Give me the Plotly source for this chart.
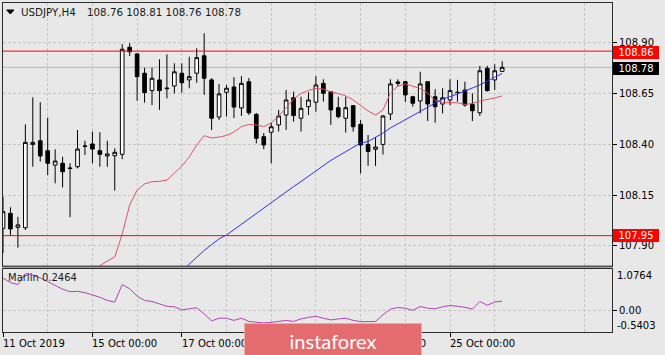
import plotly.graph_objects as go

# ---------------- data ----------------
candle_idx = list(range(68))
opens = [107.986, 108.060, 107.991, 107.989, 108.400, 108.418, 108.369, 108.298, 108.307, 108.284,
         108.290, 108.390, 108.402, 108.369, 108.343, 108.344, 108.351, 108.879, 108.846, 108.751,
         108.665, 108.718, 108.678, 108.688, 108.751, 108.718, 108.751, 108.837, 108.718, 108.535,
         108.657, 108.683, 108.580, 108.709, 108.548, 108.438, 108.460, 108.496, 108.545, 108.630,
         108.529, 108.586, 108.608, 108.701, 108.660, 108.581, 108.529, 108.591, 108.499, 108.400,
         108.376, 108.400, 108.550, 108.708, 108.709, 108.635, 108.614, 108.709, 108.635, 108.599,
         108.619, 108.657, 108.668, 108.598, 108.556, 108.775, 108.718, 108.76]
highs = [108.142, 108.090, 108.043, 108.499, 108.632, 108.608, 108.532, 108.376, 108.339, 108.307,
         108.471, 108.418, 108.463, 108.460, 108.418, 108.381, 108.895, 108.899, 108.850, 108.778,
         108.778, 108.820, 108.844, 108.800, 108.800, 108.832, 108.874, 108.948, 108.727, 108.698,
         108.693, 108.732, 108.737, 108.727, 108.555, 108.456, 108.507, 108.570, 108.668, 108.660,
         108.635, 108.657, 108.737, 108.721, 108.662, 108.635, 108.635, 108.594, 108.520, 108.446,
         108.434, 108.545, 108.721, 108.721, 108.713, 108.640, 108.758, 108.712, 108.672, 108.677,
         108.721, 108.718, 108.709, 108.652, 108.787, 108.787, 108.795, 108.81]
lows = [107.864, 107.953, 107.891, 107.978, 108.290, 108.315, 108.249, 108.208, 108.188, 108.041,
        108.282, 108.348, 108.307, 108.290, 108.290, 108.172, 108.327, 108.836, 108.615, 108.606,
        108.594, 108.570, 108.627, 108.652, 108.655, 108.677, 108.704, 108.644, 108.471, 108.520,
        108.537, 108.530, 108.540, 108.545, 108.405, 108.376, 108.307, 108.463, 108.471, 108.512,
        108.463, 108.545, 108.561, 108.611, 108.496, 108.529, 108.458, 108.463, 108.257, 108.294,
        108.294, 108.350, 108.520, 108.685, 108.609, 108.586, 108.553, 108.515, 108.507, 108.553,
        108.594, 108.611, 108.586, 108.515, 108.540, 108.660, 108.668, 108.76]
closes = [108.068, 107.983, 108.003, 108.410, 108.410, 108.343, 108.307, 108.318, 108.265, 108.281,
          108.377, 108.392, 108.377, 108.351, 108.353, 108.361, 108.869, 108.857, 108.734, 108.655,
          108.726, 108.665, 108.675, 108.758, 108.704, 108.734, 108.828, 108.726, 108.529, 108.649,
          108.677, 108.584, 108.701, 108.556, 108.430, 108.397, 108.487, 108.540, 108.619, 108.542,
          108.578, 108.619, 108.693, 108.652, 108.570, 108.537, 108.581, 108.487, 108.397, 108.365,
          108.387, 108.540, 108.698, 108.701, 108.644, 108.603, 108.698, 108.599, 108.586, 108.630,
          108.665, 108.656, 108.594, 108.566, 108.763, 108.665, 108.763, 108.78]

ma_red_start = 12
ma_red = [107.771, 107.802, 107.825, 107.845, 107.958, 108.101, 108.175, 108.205, 108.216, 108.218,
          108.224, 108.259, 108.293, 108.338, 108.397, 108.443, 108.432, 108.436, 108.444, 108.461,
          108.488, 108.498, 108.496, 108.488, 108.506, 108.540, 108.579, 108.624, 108.651, 108.666,
          108.676, 108.673, 108.659, 108.651, 108.639, 108.619, 108.594, 108.565, 108.545, 108.570,
          108.653, 108.688, 108.698, 108.688, 108.676, 108.653, 108.616, 108.608, 108.607, 108.605,
          108.597, 108.602, 108.614, 108.620, 108.629, 108.639]
ma_blue_start = 24
ma_blue = [107.776, 107.810, 107.845, 107.877, 107.906, 107.934, 107.953, 107.980, 108.007, 108.032,
           108.059, 108.086, 108.111, 108.138, 108.165, 108.192, 108.217, 108.244, 108.271, 108.298,
           108.321, 108.343, 108.363, 108.385, 108.407, 108.414, 108.433, 108.456, 108.481, 108.501,
           108.520, 108.543, 108.562, 108.584, 108.604, 108.624, 108.635, 108.649, 108.661, 108.678,
           108.693, 108.713, 108.730, 108.750]
marlin = [0.832, 0.717, 0.666, 0.948, 0.910, 0.838, 0.743, 0.640, 0.550, 0.486,
          0.494, 0.461, 0.409, 0.345, 0.263, 0.222, 0.666, 0.563, 0.371, 0.263,
          0.237, 0.171, 0.114, 0.101, 0.024, 0.050, 0.076, -0.078, -0.258, -0.189,
          -0.189, -0.245, -0.189, -0.271, -0.284, -0.309, -0.296, -0.271, -0.245, -0.271,
          -0.207, -0.168, -0.142, -0.189, -0.232, -0.207, -0.189, -0.245, -0.276, -0.276,
          -0.271, -0.104, 0.042, 0.083, 0.063, 0.012, 0.109, 0.063, 0.050, 0.101,
          0.135, 0.114, 0.088, 0.042, 0.237, 0.140, 0.222, 0.2464]

price_ticks = [107.90, 108.15, 108.40, 108.65, 108.90]
date_ticks = [0, 12, 24, 36, 48, 60]
# labels drawn for the ticks (the 21 Oct label is hidden by the watermark in the reference)
label_ticks = [0, 12, 24, 48, 60]
date_labels = ["11 Oct 2019", "15 Oct 00:00", "17 Oct 00:00", "23 Oct 00:00", "25 Oct 00:00"]
day_grid = [6, 18, 30, 42, 54, 66, 78]
resistance = 108.86
support = 107.95
last_price = 108.78
marlin_max = 1.0764
marlin_min = -0.5403
header_symbol = "USDJPY,H4"
header_ohlc = "108.76 108.81 108.76 108.78"

# ---------------- layout helpers ----------------
W, H = 665, 355
ML, MR, MT, MB = 3, 53, 3, 23
PW = W - ML - MR
PH = H - MT - MB


def px_x(px):
    return (px - ML) / PW


def px_y(py):
    return (H - MB - py) / PH


main_lo = px_y(266)
ind_hi = px_y(268.5)
FONT = "DejaVu Sans"
grid_col = "#c6c6c6"
frame_col = "#2c2c2c"

fig = go.Figure()
fig.add_trace(go.Candlestick(
    x=candle_idx, open=opens, high=highs, low=lows, close=closes,
    increasing=dict(line=dict(color="#000000", width=1), fillcolor="#ffffff"),
    decreasing=dict(line=dict(color="#000000", width=1), fillcolor="#000000"),
    whiskerwidth=0, xaxis="x", yaxis="y", hoverinfo="skip", showlegend=False))
fig.add_trace(go.Scatter(
    x=list(range(ma_red_start, ma_red_start + len(ma_red))), y=ma_red, mode="lines",
    line=dict(color="#e2506e", width=1), xaxis="x", yaxis="y", hoverinfo="skip"))
fig.add_trace(go.Scatter(
    x=list(range(ma_blue_start, ma_blue_start + len(ma_blue))), y=ma_blue, mode="lines",
    line=dict(color="#3030f4", width=1), xaxis="x", yaxis="y", hoverinfo="skip"))
fig.add_trace(go.Scatter(
    x=candle_idx, y=marlin, mode="lines", line=dict(color="#b044b4", width=1),
    xaxis="x2", yaxis="y2", hoverinfo="skip"))

xrange = [0, 81.74]
fig.update_layout(
    width=W, height=H, margin=dict(l=ML, r=MR, t=MT, b=MB),
    paper_bgcolor="#e8e8e8", plot_bgcolor="#e8e8e8",
    showlegend=False, hovermode=False,
    font=dict(family=FONT, size=10, color="#000000"),
    xaxis=dict(domain=[0, 1], anchor="y", range=xrange, rangeslider=dict(visible=False),
               tickmode="array", tickvals=date_ticks + day_grid, showticklabels=False, ticks="",
               showgrid=True, gridcolor=grid_col, griddash="3px,2px", gridwidth=1,
               showline=True, mirror=True, linecolor=frame_col, linewidth=1, zeroline=False),
    yaxis=dict(domain=[main_lo, 1], anchor="x", side="right", range=[107.8004, 109.0972],
               tickmode="array", tickvals=price_ticks, ticktext=[f"{v:.2f}" for v in price_ticks],
               ticks="outside", ticklen=4, tickcolor="#000000",
               showgrid=True, gridcolor=grid_col, griddash="3px,2px", gridwidth=1,
               showline=True, mirror=True, linecolor=frame_col, linewidth=1, zeroline=False),
    xaxis2=dict(domain=[0, 1], anchor="y2", matches="x", range=xrange,
                tickmode="array", tickvals=date_ticks, showticklabels=False,
                ticks="outside", ticklen=4, tickcolor="#000000",
                showgrid=True, gridcolor=grid_col, griddash="3px,2px", gridwidth=1,
                minor=dict(tickmode="array", tickvals=day_grid, showgrid=True, gridcolor=grid_col,
                           griddash="3px,2px", gridwidth=1, ticks=""),
                showline=True, mirror=True, linecolor=frame_col, linewidth=1, zeroline=False),
    yaxis2=dict(domain=[0, ind_hi], anchor="x2", side="right", range=[marlin_min, marlin_max],
                tickmode="array", tickvals=[0], ticktext=["0.00"],
                ticks="outside", ticklen=4, tickcolor="#000000",
                showgrid=True, gridcolor=grid_col, griddash="3px,2px", gridwidth=1,
                showline=True, mirror=True, linecolor=frame_col, linewidth=1, zeroline=False),
)

# horizontal levels
fig.add_shape(type="line", xref="paper", yref="y", x0=0, x1=1, y0=last_price, y1=last_price,
              line=dict(color="#b8b8b8", width=1), layer="below")
for lvl in (resistance, support):
    fig.add_shape(type="line", xref="paper", yref="y", x0=0, x1=1, y0=lvl, y1=lvl,
                  line=dict(color="#ff0000", width=1), layer="above")
# thicker bottom edge of the main window
fig.add_shape(type="line", xref="paper", yref="paper", x0=0, x1=1, y0=px_y(266.5), y1=px_y(266.5),
              line=dict(color="#555555", width=2), layer="above")

# header triangle
tri = f"M {px_x(6.7)} {px_y(10)} L {px_x(14)} {px_y(10)} L {px_x(10.35)} {px_y(14)} Z"
fig.add_shape(type="path", xref="paper", yref="paper", path=tri,
              fillcolor="#000000", line=dict(color="#000000", width=1))

ann = []
ann.append(dict(xref="paper", yref="paper", x=px_x(19), y=px_y(12), xanchor="left", yanchor="middle",
                text=header_symbol, showarrow=False, font=dict(family=FONT, size=10.3, color="#1a1a1a")))
ann.append(dict(xref="paper", yref="paper", x=px_x(85), y=px_y(12), xanchor="left", yanchor="middle",
                text=header_ohlc, showarrow=False, font=dict(family=FONT, size=10.3, color="#1a1a1a")))
ann.append(dict(xref="paper", yref="paper", x=px_x(5.5), y=px_y(277.3), xanchor="left", yanchor="middle",
                text=f"Marlin {marlin[-1]:.4f}", showarrow=False, font=dict(family=FONT, size=10, color="#1a1a1a")))
ann.append(dict(xref="paper", yref="paper", x=px_x(615), y=px_y(275.7), xanchor="left", yanchor="middle",
                text=f"{marlin_max:.4f}", showarrow=False, font=dict(family=FONT, size=10, color="#000000")))
ann.append(dict(xref="paper", yref="paper", x=px_x(615), y=px_y(325.7), xanchor="left", yanchor="middle",
                text=f"{marlin_min:.4f}", showarrow=False, font=dict(family=FONT, size=10, color="#000000")))
# price boxes
for val, bg, yc in ((resistance, "#ff0000", 53), (last_price, "#000000", 68.8), (support, "#ff0000", 235.5)):
    ann.append(dict(xref="paper", yref="paper", x=px_x(613), y=px_y(yc), xanchor="left", yanchor="middle",
                    text=f"{val:.2f}", showarrow=False, width=44, height=11, borderpad=1, borderwidth=0,
                    bgcolor=bg, align="center", valign="middle",
                    font=dict(family=FONT, size=10, color="#ffffff")))
# date labels
for t, lab in zip(label_ticks, date_labels):
    ann.append(dict(xref="x2", yref="paper", x=t, y=px_y(343), xanchor="left", yanchor="middle",
                    xshift=-2, text=lab, showarrow=False, font=dict(family=FONT, size=10, color="#000000")))
# watermark
ann.append(dict(xref="paper", yref="paper", x=px_x(244), y=px_y(322.7), xanchor="left", yanchor="top",
                text="instaforex", showarrow=False, width=176, height=34, borderpad=0, borderwidth=1,
                bgcolor="#e46c6e", bordercolor="#f2a8a8", align="center", valign="middle",
                font=dict(family="Lato", size=20, color="#ffffff")))
fig.update_layout(annotations=ann)

fig.write_html("out.html", config={"displayModeBar": False},
               post_script="document.body.style.margin='0';document.body.style.overflow='hidden';")
